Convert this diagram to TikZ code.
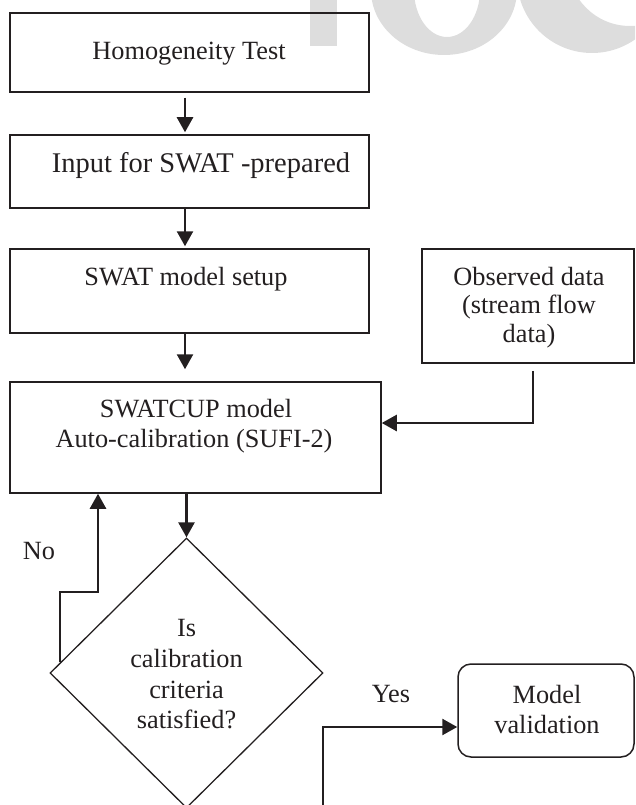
\documentclass[tikz,border=0pt]{standalone}
\usepackage{fontspec}
\setmainfont{Liberation Serif}
\usetikzlibrary{shapes.geometric,arrows.meta,calc}
\definecolor{ink}{HTML}{231F20}
\definecolor{wm}{RGB}{221,221,221}
\begin{document}
\begin{tikzpicture}[x=1pt,y=-1pt,
  box/.style={draw=ink, line width=1.5pt, rectangle, inner sep=0pt},
  txt/.style={anchor=base, inner sep=0pt, text=ink, font=\fontsize{26.3}{30}\selectfont},
  arr/.style={draw=ink, line width=2.5pt, -{Triangle[length=15pt,width=16pt]}},
]
\useasboundingbox (0,0) rectangle (635,805);
% watermark
\begin{scope}
\clip (0,0) rectangle (635,805);
\fill[wm] (310,-5) rectangle (337,46);
\fill[wm, even odd rule] (444,-10) ellipse [x radius=73, y radius=65] (447,-10) ellipse [x radius=33, y radius=47];
\fill[wm, even odd rule] (592,-22) circle [radius=75] (630,-36) ellipse [x radius=62, y radius=62];
\end{scope}
% boxes
\node[box, minimum width=359pt, minimum height=79pt] (b1) at (189.5,52.5) {};
\node[box, minimum width=359pt, minimum height=73pt] (b2) at (189.5,171.5) {};
\node[box, minimum width=359pt, minimum height=84pt] (b3) at (189.5,291) {};
\node[box, minimum width=371pt, minimum height=111pt] (b4) at (195.5,437.5) {};
\node[box, minimum width=212pt, minimum height=114pt] (obs) at (528,306) {};
\node[draw=ink, line width=1.3pt, diamond, minimum width=273pt, minimum height=270pt, inner sep=0pt] (dec) at (186.5,673) {};
\node[box, rounded corners=13pt, minimum width=176pt, minimum height=93pt] (mv) at (546,710.5) {};
% texts
\node[txt] (t1) at (189,60) {Homogeneity Test};
\node[txt, font=\fontsize{28.5}{30}\selectfont] (t2) at (201,172) {Input for SWAT -prepared};
\node[txt] (t3) at (186,285) {SWAT model setup};
\node[txt] (t4a) at (196,417) {SWATCUP model};
\node[txt] (t4b) at (194,447) {Auto-calibration (SUFI-2)};
\node[txt] (o1) at (529,285) {Observed data};
\node[txt] (o2) at (529,313.5) {(stream flow};
\node[txt] (o3) at (529,342) {data)};
\node[txt] (d1) at (186.5,636) {Is};
\node[txt] (d2) at (186.5,667) {calibration};
\node[txt] (d3) at (186.5,698) {criteria};
\node[txt] (d4) at (186.5,728) {satisfied?};
\node[txt] (m1) at (547,703) {Model};
\node[txt] (m2) at (547,733) {validation};
\node[txt] (no) at (39,559) {No};
\node[txt] (yes) at (391,702) {Yes};
% connectors
\coordinate (ax) at (185,0);
\draw[arr, shorten <=5pt, shorten >=2pt] (b1.south -| ax) -- (b2.north -| ax);
\draw[arr, shorten >=2pt] (b2.south -| ax) -- (b3.north -| ax);
\draw[arr, shorten >=12pt] (b3.south -| ax) -- (b4.north -| ax);
\draw[arr] (b4.south -| dec.north) -- (dec.north);
\coordinate (np) at ($(dec.west)!0.078!(dec.north)$);
\coordinate (nox) at (98,592);
\draw[arr] (np) |- (nox) -- (nox |- b4.south);
\coordinate (ox) at (533,0);
\coordinate (oy) at (0,423);
\draw[arr, shorten <=7pt] (obs.south -| ox) |- (b4.east |- oy);
\coordinate (ys) at (323,810);
\coordinate (yy) at (0,727);
\draw[arr] (ys) |- (mv.west |- yy);
\end{tikzpicture}
\end{document}
